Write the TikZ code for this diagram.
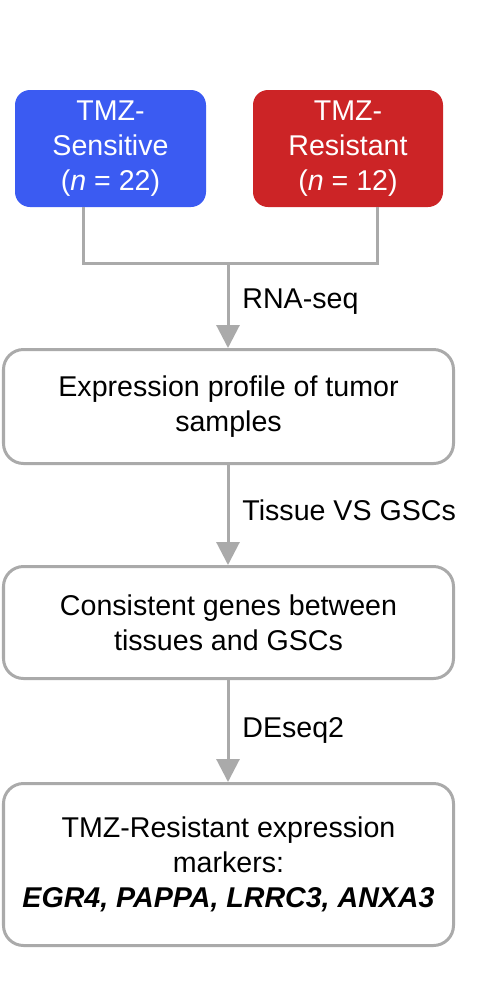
\documentclass[tikz,border=0pt]{standalone}
\usepackage{fontspec}
\setmainfont{Liberation Sans}
\usepackage{tikz}
\usetikzlibrary{arrows.meta,positioning}
\definecolor{tmzblue}{RGB}{59,91,242}
\definecolor{tmzred}{RGB}{204,36,38}
\definecolor{linkgray}{RGB}{170,170,170}
\newcommand{\boxfont}{\fontsize{14.3}{17.5}\selectfont}

\begin{document}
\begin{tikzpicture}[x=0.5pt,y=-0.5pt,
          group/.style={rounded corners=7.5pt,minimum height=58.5pt,
                        align=center,font=\boxfont,text=white,inner sep=0pt},
          stagebox/.style={draw=linkgray,line width=1.5pt,rounded corners=10pt,
                        fill=white,minimum width=225pt,align=center,
                        font=\boxfont,inner sep=0pt},
          link/.style={linkgray,line width=1.5pt},
          flow/.style={link,-{Triangle[length=11.5pt,width=11.5pt]}},
          steplabel/.style={anchor=base west,inner sep=0pt,font=\boxfont}]
        \useasboundingbox (0,0) rectangle (480,982);
        \node[group,fill=tmzblue,minimum width=95.5pt] (sens) at (110.5,148.5)
          {TMZ-\\Sensitive\\(\textit{n} = 22)};
        \node[group,fill=tmzred,minimum width=95pt] (res) at (348,148.5)
          {TMZ-\\Resistant\\(\textit{n} = 12)};
        \node[stagebox,minimum height=57pt] (expr) at (228.5,406.5)
          {Expression profile of tumor\\samples};
        \node[stagebox,minimum height=56pt] (cons) at (228.5,622.5)
          {Consistent genes between\\tissues and GSCs};
        \node[stagebox,minimum height=81pt] (mark) at (228.5,864.5)
          {TMZ-Resistant expression\\markers:\\
           \textbf{\textit{EGR4, PAPPA, LRRC3, ANXA3}}};
        % merge of the two groups
        \coordinate (lft) at (83,263);
        \coordinate (rgt) at (377,263);
        \coordinate (join) at (228,263);
        \draw[link] (sens.south -| lft) -- (lft) -- (rgt) -- (res.south -| rgt);
        \draw[flow] (join) -- (expr.north -| join);
        \draw[flow] (expr.south -| join) -- (cons.north -| join);
        \draw[flow] (cons.south -| join) -- (mark.north -| join);
        \node[steplabel] (rna) at (242,308) {RNA-seq};
        \node[steplabel] (tvg) at (242,520) {Tissue VS GSCs};
        \node[steplabel] (deseq) at (242,737) {DEseq2};
      \end{tikzpicture}
\end{document}
